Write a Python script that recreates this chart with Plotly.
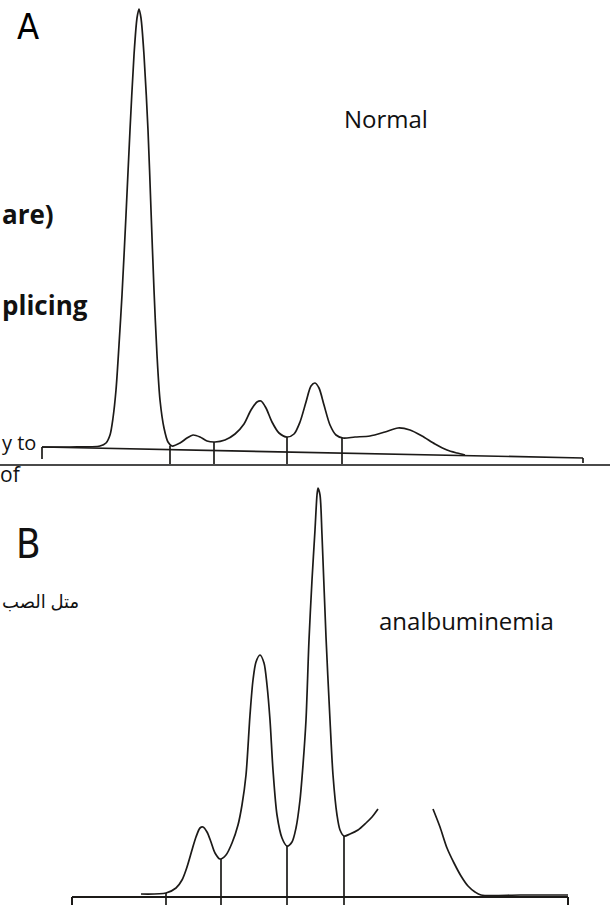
import plotly.graph_objects as go

W, H = 610, 905

# ---- Panel A (Normal) densitometer trace: migration position vs. absorbance above baseline
a_x = [42, 70, 100, 106, 110, 113, 116, 119, 122, 126, 130, 134, 137, 139, 141, 144, 148, 151,
       154, 157, 160, 164, 168, 172, 180, 187, 193, 200, 207, 215, 225, 235, 244, 251, 257, 261,
       266, 272, 279, 287, 294, 300, 306, 311, 315, 319, 324, 330, 336, 343, 355, 370, 385, 398,
       410, 422, 435, 447, 457, 465]
a_y = [0, 0, 1, 4, 12, 29, 57, 102, 152, 232, 317, 392, 429, 438, 429, 392, 317, 237,
       157, 92, 47, 19, 5, 1, 4, 9, 12, 10, 6, 5, 7, 13, 23, 37, 45, 46,
       39, 25, 14, 10, 13, 25, 45, 61, 64, 59, 42, 22, 12, 9, 10, 11, 15, 19,
       17, 11, 3, -3, -6, -8]
a_base_x = [42, 583]
a_base_y = [0, -11]
a_div_x = [170, 214, 287, 342]
a_div_top = [1, 5, 10, 9]
a_div_bottom = -18

# ---- Panel B (analbuminemia) trace
b_x = [141, 166, 176, 182, 187, 192, 196, 200, 203, 207, 211, 215, 220, 226, 232, 238, 242, 246,
       250, 253, 256, 260, 264, 267, 270, 273, 277, 282, 287, 292, 296, 300, 303, 306, 309, 312,
       315, 317, 318, 320, 322, 326, 330, 333, 337, 340, 344, 350, 358, 366, 372, 378, None,
       433, 440, 447, 454, 461, 468, 475, 481, 520, 568]
b_y = [2, 3, 8, 16, 29, 46, 59, 68, 69, 64, 54, 43, 37, 41, 53, 71, 91, 121,
       181, 216, 234, 241, 233, 211, 176, 126, 81, 58, 50, 54, 68, 96, 131, 176, 256, 316,
       366, 401, 408, 401, 361, 259, 176, 121, 81, 66, 60, 62, 66, 73, 79, 87, None,
       87, 69, 48, 33, 20, 10, 4, 1, 1, 1]
b_base_x = [72, 568]
b_base_y = [-1, -1]
b_div_x = [166, 221, 287, 344]
b_div_top = [3, 37, 50, 60]
b_div_bottom = -9

LINE = "#1c1a18"
NARROW = "Liberation Sans Narrow, DejaVu Sans Condensed, Roboto Condensed, Arial Narrow, Liberation Sans"


def seg(xs, tops, bottom):
    X, Y = [], []
    for x, t in zip(xs, tops):
        X += [x, x, None]
        Y += [t, bottom, None]
    return X, Y


fig = go.Figure()

# Panel A
fig.add_trace(go.Scatter(x=a_x, y=a_y, mode="lines", line=dict(color=LINE, width=1.7, shape="spline", smoothing=0.8),
                         xaxis="x", yaxis="y", hoverinfo="skip"))
fig.add_trace(go.Scatter(x=a_base_x, y=a_base_y, mode="lines", line=dict(color=LINE, width=1.7),
                         xaxis="x", yaxis="y", hoverinfo="skip"))
ax, ay = seg(a_div_x, a_div_top, a_div_bottom)
fig.add_trace(go.Scatter(x=ax + [42, 42, None, 583, 583], y=ay + [0, -12, None, -11, -16], mode="lines",
                         line=dict(color=LINE, width=1.7), xaxis="x", yaxis="y", hoverinfo="skip"))
fig.add_trace(go.Scatter(x=[0, 610], y=[a_div_bottom, a_div_bottom], mode="lines",
                         line=dict(color="#4a4a4a", width=2.2), xaxis="x", yaxis="y", hoverinfo="skip"))

# Panel B
fig.add_trace(go.Scatter(x=b_x, y=b_y, mode="lines", connectgaps=False,
                         line=dict(color=LINE, width=1.7, shape="spline", smoothing=0.8),
                         xaxis="x2", yaxis="y2", hoverinfo="skip"))
fig.add_trace(go.Scatter(x=[72, 72] + [None] + b_base_x + [None, 568, 568],
                         y=[b_div_bottom, -1, None] + b_base_y + [None, -1, b_div_bottom], mode="lines",
                         line=dict(color=LINE, width=2), xaxis="x2", yaxis="y2", hoverinfo="skip"))
bx, by = seg(b_div_x, b_div_top, b_div_bottom)
fig.add_trace(go.Scatter(x=bx, y=by, mode="lines", line=dict(color=LINE, width=1.7),
                         xaxis="x2", yaxis="y2", hoverinfo="skip"))

split = 435 / H
ax_style = dict(visible=False, showgrid=False, zeroline=False, fixedrange=True)
fig.update_layout(
    width=W, height=H, margin=dict(l=0, r=0, t=0, b=0),
    paper_bgcolor="white", plot_bgcolor="white", showlegend=False,
    xaxis=dict(range=[0, 610], domain=[0, 1], anchor="y", **ax_style),
    yaxis=dict(range=[-23, 447], domain=[split, 1], anchor="x", **ax_style),
    xaxis2=dict(range=[0, 610], domain=[0, 1], anchor="y2", **ax_style),
    yaxis2=dict(range=[-9, 426], domain=[0, split], anchor="x2", **ax_style),
)


def note(text, px, py, size, family="Open Sans", bold=False, xanchor="center", color="#111"):
    t = f"<b>{text}</b>" if bold else text
    fig.add_annotation(text=t, x=px / W, y=1 - py / H, xref="paper", yref="paper", showarrow=False,
                       xanchor=xanchor, yanchor="middle", font=dict(family=family, size=size, color=color))


note("A", 28, 27, 36, family=NARROW, color="#000")
note("Normal", 386, 118, 24)
note("are)", 0, 214, 26, bold=True, xanchor="left")
note("plicing", 0, 305, 26, bold=True, xanchor="left")
note("y to", 0, 443, 20, xanchor="left")
note("of", 24, 474, 21, xanchor="right")
note("B", 28, 544, 40, family=NARROW)
note("متل الصب", 0, 601, 18, family="Noto Sans, DejaVu Sans", xanchor="left")
note("analbuminemia", 466, 620, 24)

fig.write_html("out.html")
